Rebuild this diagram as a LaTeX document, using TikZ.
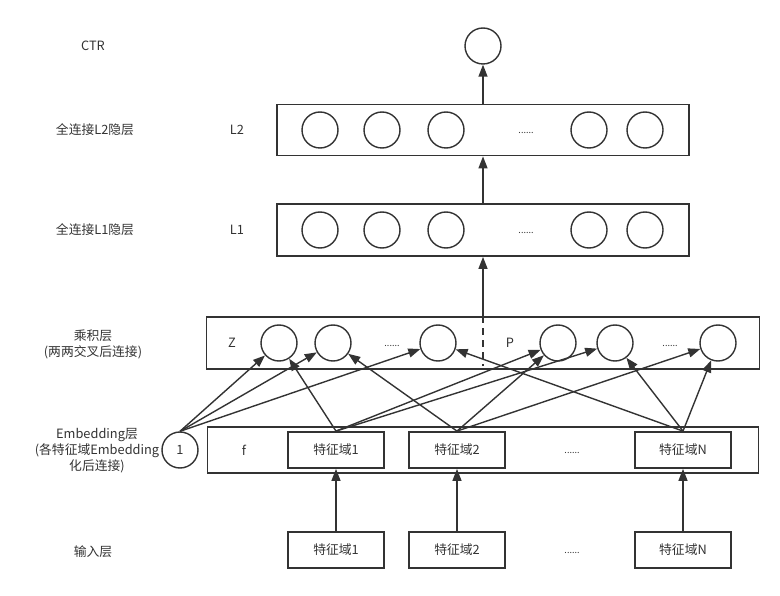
\documentclass[tikz,border=0pt]{standalone}
\usepackage{fontspec}
\setmainfont{Noto Sans CJK SC}
\usetikzlibrary{arrows.meta,positioning}
\definecolor{ink}{HTML}{333333}

\begin{document}
\begin{tikzpicture}[x=1pt, y=-1pt, color=ink, line width=1.4pt,
                    font=\fontsize{12.8pt}{16pt}\selectfont,
                    neuron/.style={draw, circle, minimum size=36pt, inner sep=0pt},
                    layer/.style={draw, rectangle, line width=1.8pt, inner sep=0pt},
                    field/.style={draw, rectangle, line width=1.8pt, minimum width=96pt,
                                  minimum height=36pt, inner sep=0pt},
                    arr/.style={-{Triangle[length=12pt,width=9pt]}},
                    dots/.style={font=\fontsize{9pt}{9pt}\selectfont}]
   \useasboundingbox (0,0) rectangle (780,596);

   % left side labels
   \node (ctrlabel) at (93,46) {CTR};
   \node (l2label) at (95,130) {全连接L2隐层};
   \node (l1label) at (95,230) {全连接L1隐层};
   \node[align=center] (prodlabel) at (93,344) {乘积层\\(两两交叉后连接)};
   \node[align=center] (emblabel) at (97,451)
        {Embedding层\\(各特征域Embedding\\化后连接)};
   \node (inlabel) at (93,552) {输入层};

   % output
   \node[neuron] (ctr) at (483,46) {};

   % hidden layer L2
   \node[layer, minimum width=412pt, minimum height=51pt] (l2) at (483,130) {};
   \node (l2name) at (237,130) {L2};
   \node[neuron] (h21) at (320,130) {};
   \node[neuron] (h22) at (382,130) {};
   \node[neuron] (h23) at (446,130) {};
   \node[dots] (h2dots) at (526,133) {......};
   \node[neuron] (h24) at (589,130) {};
   \node[neuron] (h25) at (645,130) {};

   % hidden layer L1
   \node[layer, minimum width=412pt, minimum height=52pt] (l1) at (483,230) {};
   \node (l1name) at (237,230) {L1};
   \node[neuron] (h11) at (320,230) {};
   \node[neuron] (h12) at (382,230) {};
   \node[neuron] (h13) at (446,230) {};
   \node[dots] (h1dots) at (526,233) {......};
   \node[neuron] (h14) at (589,230) {};
   \node[neuron] (h15) at (645,230) {};

   % product layer
   \node[layer, minimum width=553pt, minimum height=52pt] (prod) at (483,343) {};
   \node (zname) at (232,343) {Z};
   \node[neuron] (z1) at (279,343) {};
   \node[neuron] (z2) at (333,343) {};
   \node[dots] (zdots) at (392,346) {......};
   \node[neuron] (z3) at (438,343) {};
   \node (pname) at (510,343) {P};
   \node[neuron] (p1) at (558,343) {};
   \node[neuron] (p2) at (615,343) {};
   \node[dots] (pdots) at (670,346) {......};
   \node[neuron] (p3) at (718,343) {};
   \coordinate (dashend) at (483,366);
   \draw[dash pattern=on 7pt off 5pt] (prod.north) -- (dashend);

   % embedding layer
   \node[layer, minimum width=551pt, minimum height=46pt] (emb) at (483,450) {};
   \node[neuron] (one) at (180,450) {1};
   \node (fname) at (244,450) {f};
   \node[field] (e1) at (336,450) {特征域1};
   \node[field] (e2) at (457,450) {特征域2};
   \node[dots] (edots) at (572,453) {......};
   \node[field] (en) at (683,450) {特征域N};

   % input layer
   \node[field] (i1) at (336,550) {特征域1};
   \node[field] (i2) at (457,550) {特征域2};
   \node[dots] (idots) at (572,553) {......};
   \node[field] (in) at (683,550) {特征域N};

   % Define connections
   \path[arr]
   (i1) edge (e1)
   (i2) edge (e2)
   (in) edge (en)
   (one.north) edge (z1)
   (one.north) edge (z2)
   (one.north) edge (z3)
   (e1.north) edge (z1)
   (e2.north) edge (z2)
   (en.north) edge (z3)
   (e1.north) edge (p1)
   (e2.north) edge (p1)
   (e1.north) edge (p2)
   (en.north) edge (p2)
   (e2.north) edge (p3)
   (en.north) edge (p3)
   (prod.north) edge (l1)
   (l1) edge (l2)
   (l2) edge (ctr);

\end{tikzpicture}
\end{document}
